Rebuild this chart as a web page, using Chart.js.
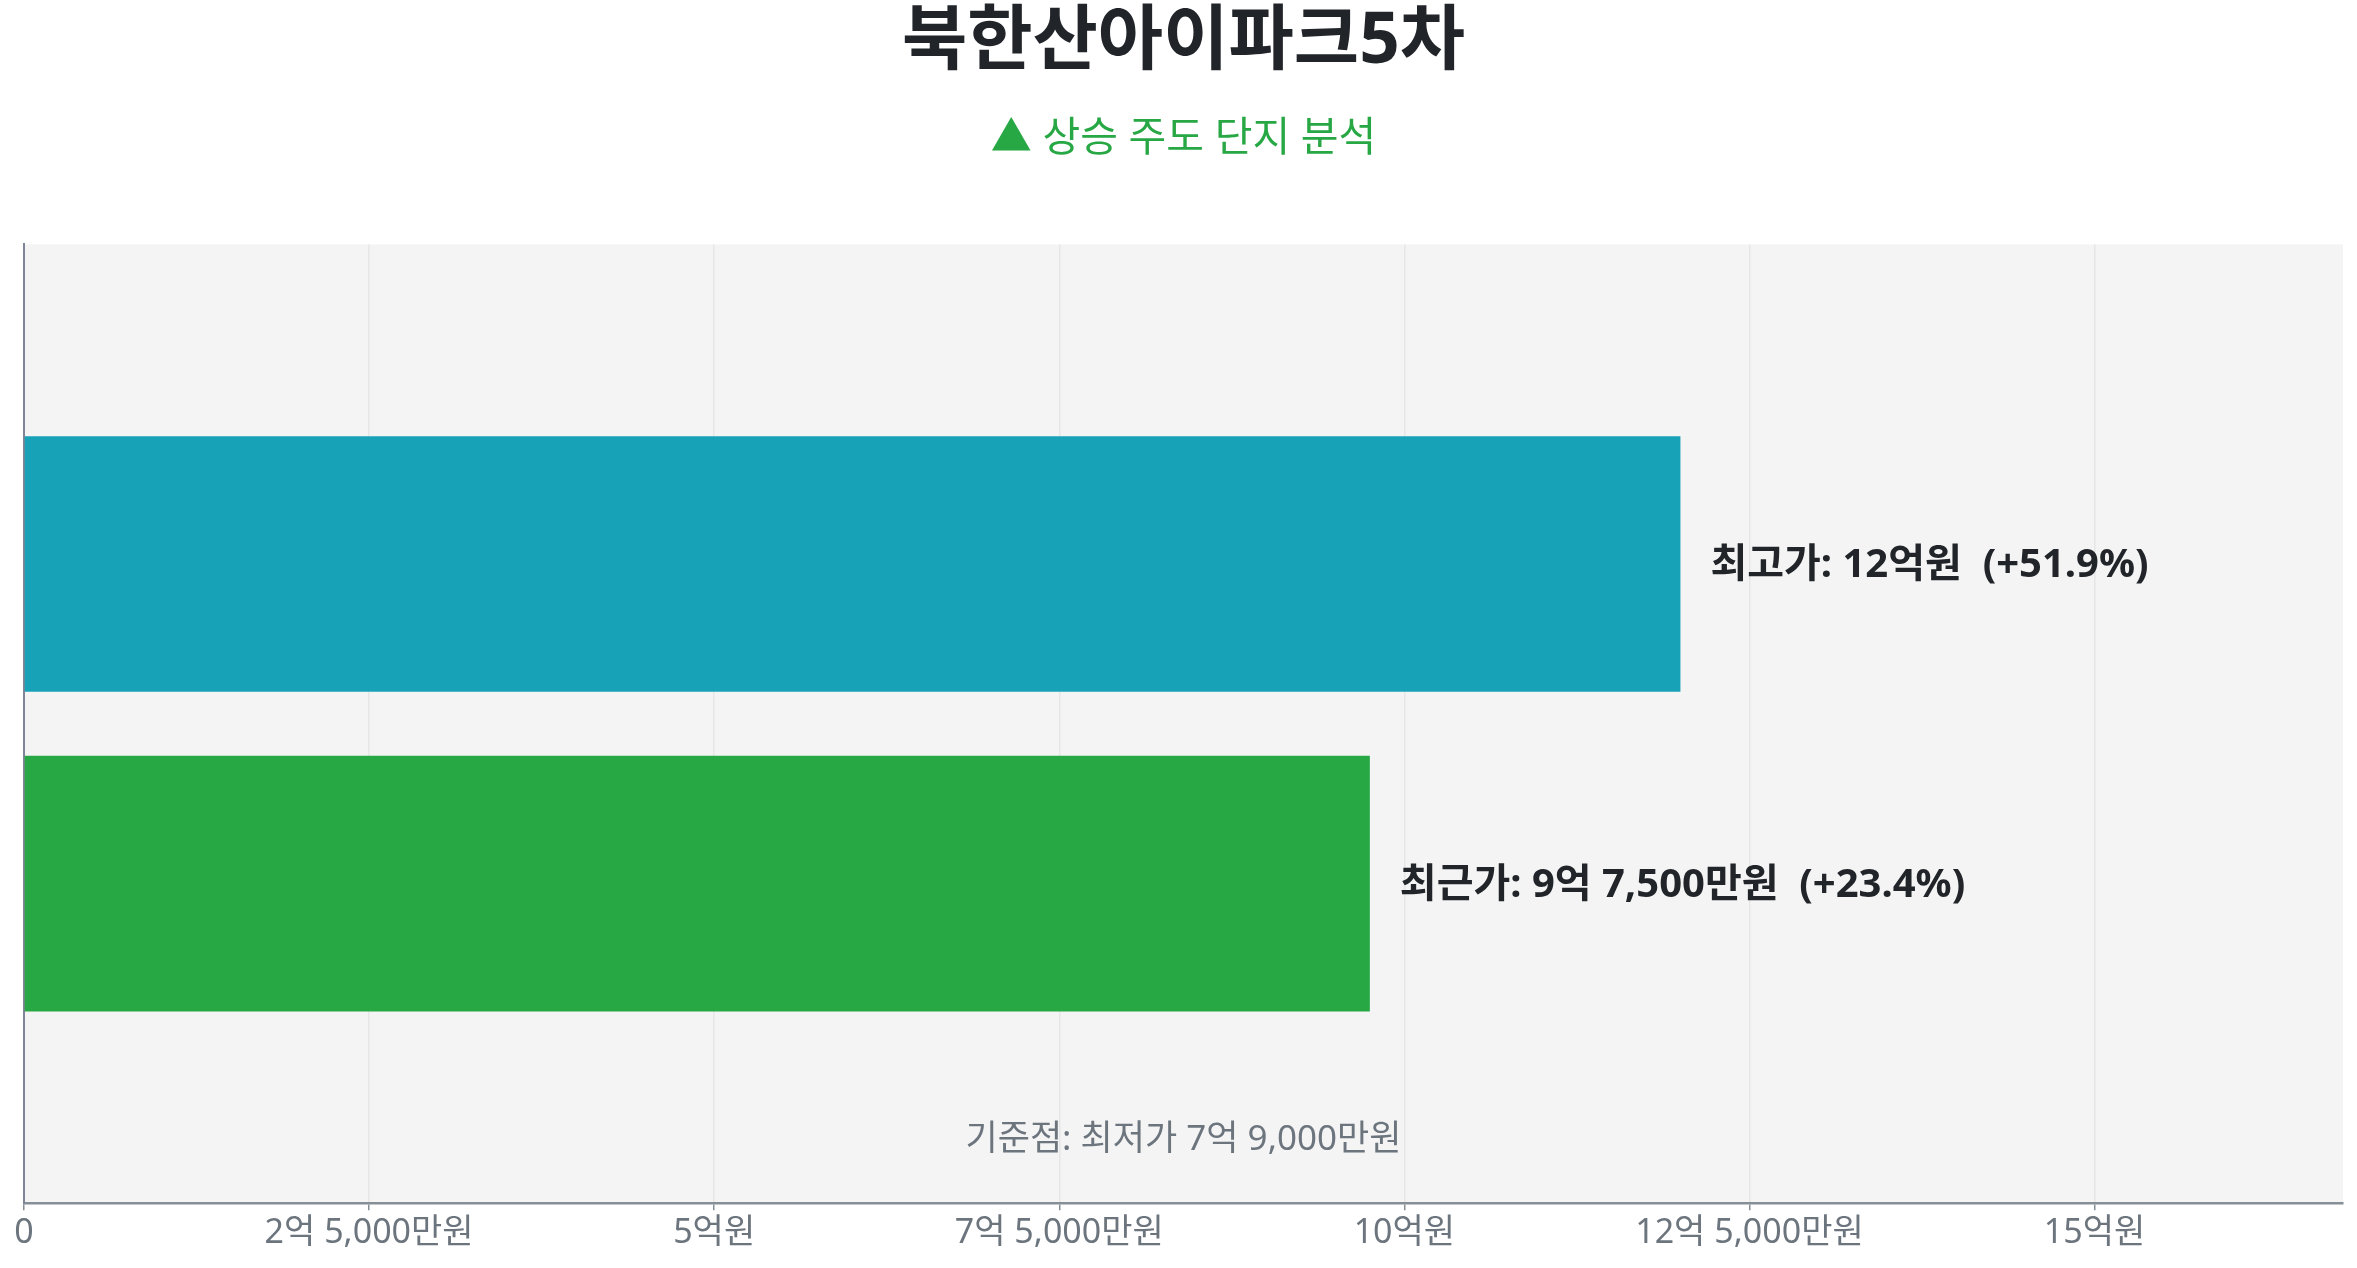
<!DOCTYPE html>
<html lang="ko">
<head>
<meta charset="utf-8">
<title>북한산아이파크5차</title>
<script src="https://cdn.jsdelivr.net/npm/chart.js@4.4.1/dist/chart.umd.min.js"></script>
<style>
  html, body { margin: 0; padding: 0; background: #fff; }
  #wrap { width: 2357px; height: 1268px; position: relative; }
</style>
</head>
<body>
<div id="wrap"><canvas id="chart"></canvas></div>
<script>
// ─── DATA (억원 단위) ─────────────────────────────────────────────────────
// blank rows top and bottom keep the two bars in the middle thirds
const categories = ['', '최고가', '최근가', ''];
const prices = [null, 12, 9.75, null];
const basePrice = 7.9;
const barColors = ['#17a2b8', '#17a2b8', '#28a745', '#28a745'];
const tickStep = 2.5;
const axisMax = 16.8;

const FONT = "'Noto Sans', 'Noto Sans CJK KR', sans-serif";

// 억 단위 값 -> "9억 7,500만원"
function fmtWon(v) {
  if (!v) return '0';
  const eok = Math.floor(v + 1e-9);
  const man = Math.round((v - eok) * 1e4);
  if (!man) return `${eok}억원`;
  return `${eok}억 ${man.toLocaleString('en-US')}만원`;
}

function fmtPct(v) {
  const p = (v / basePrice - 1) * 100;
  return `${p >= 0 ? '+' : ''}${p.toFixed(1)}%`;
}

// plot background
const plotBg = {
  id: 'plotBg',
  beforeDraw(chart) {
    const { ctx, chartArea: a } = chart;
    ctx.save();
    ctx.fillStyle = '#f4f4f4';
    ctx.fillRect(a.left, a.top, a.right - a.left, a.bottom - a.top);
    ctx.restore();
  }
};

// value labels at bar ends + baseline note
const barLabels = {
  id: 'barLabels',
  afterDatasetsDraw(chart) {
    const { ctx, chartArea: a } = chart;
    const meta = chart.getDatasetMeta(0);
    ctx.save();
    ctx.font = `bold 40px ${FONT}`;
    ctx.fillStyle = '#212529';
    ctx.textAlign = 'left';
    ctx.textBaseline = 'middle';
    meta.data.forEach((bar, i) => {
      const v = prices[i];
      if (v == null) return;
      ctx.fillText(`${categories[i]}: ${fmtWon(v)}  (${fmtPct(v)})`, bar.x + 30, bar.y + 2);
    });
    ctx.font = `35px ${FONT}`;
    ctx.fillStyle = '#6c757d';
    ctx.textAlign = 'center';
    ctx.fillText(`기준점: 최저가 ${fmtWon(basePrice)}`, (a.left + a.right) / 2, a.bottom - 63);
    ctx.restore();
  }
};

new Chart(document.getElementById('chart'), {
  type: 'bar',
  data: {
    labels: categories,
    datasets: [{
      data: prices,
      backgroundColor: barColors,
      barPercentage: 1,
      categoryPercentage: 0.8
    }]
  },
  options: {
    indexAxis: 'y',
    responsive: true,
    maintainAspectRatio: false,
    animation: false,
    layout: { padding: { left: 24, right: 14, top: 0, bottom: 11 } },
    plugins: {
      legend: { display: false },
      tooltip: { enabled: false },
      title: {
        display: true,
        text: '북한산아이파크5차',
        color: '#212529',
        font: { family: FONT, size: 71, weight: 'bold', lineHeight: 1.2 },
        padding: { top: 0, bottom: 30 }
      },
      subtitle: {
        display: true,
        text: '▲ 상승 주도 단지 분석',
        color: '#28a745',
        font: { family: FONT, size: 41, lineHeight: 1.2 },
        padding: { top: 0, bottom: 80 }
      }
    },
    scales: {
      x: {
        min: 0,
        max: axisMax,
        ticks: {
          stepSize: tickStep,
          includeBounds: false,
          color: '#6c757d',
          padding: 3,
          font: { family: FONT, size: 34 },
          callback: v => fmtWon(v)
        },
        grid: { color: '#e6e6e6', lineWidth: 1.5, tickLength: 7, tickColor: '#868e96' },
        border: { color: '#868e96', width: 2.5 }
      },
      y: {
        offset: false,
        ticks: { display: false },
        grid: { display: false, drawTicks: false },
        border: { color: '#7d8596', width: 2 }
      }
    }
  },
  plugins: [plotBg, barLabels]
});
</script>
</body>
</html>
